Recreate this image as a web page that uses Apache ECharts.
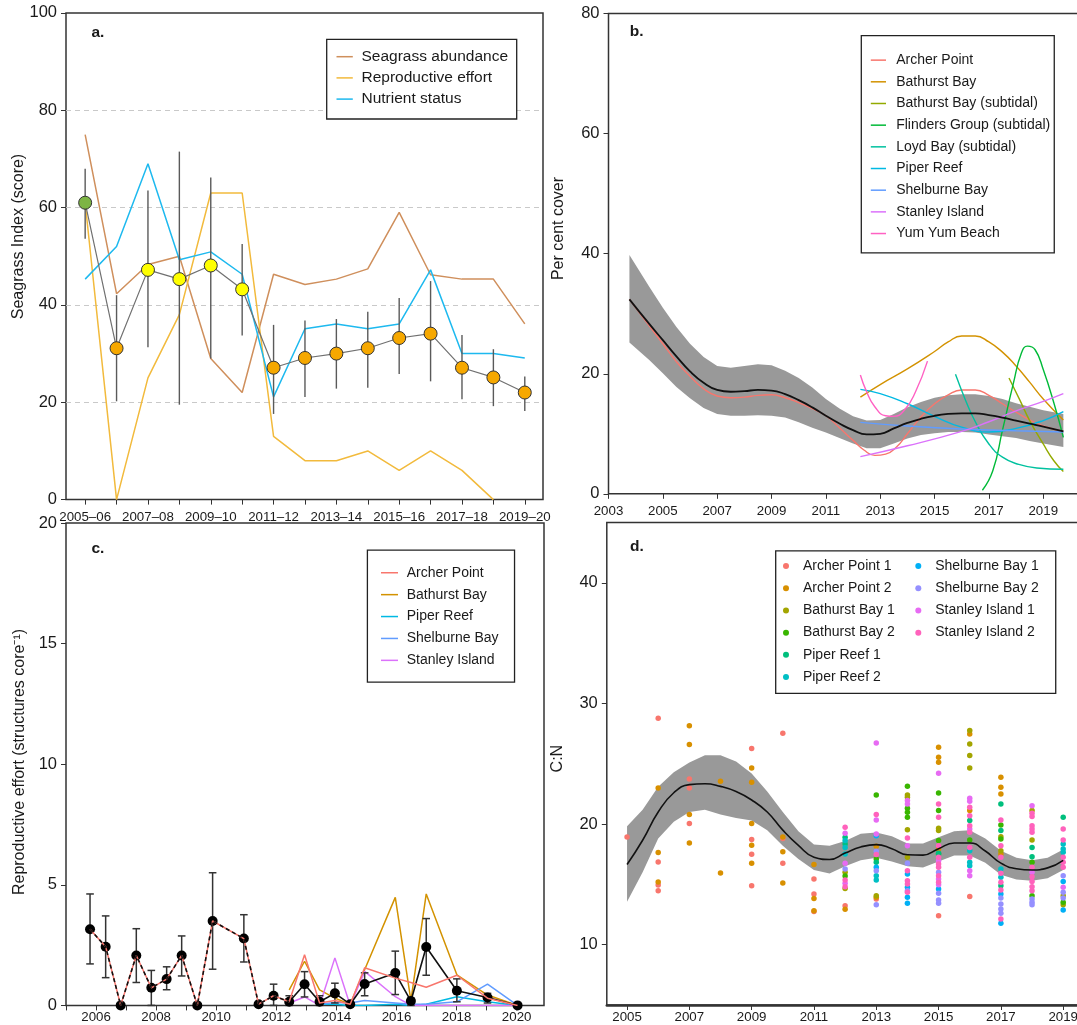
<!DOCTYPE html>
<html><head><meta charset="utf-8">
<script src="https://cdn.jsdelivr.net/npm/echarts@6/dist/echarts.min.js"></script>
<style>html,body{margin:0;padding:0;background:#fff}#c{width:1077px;height:1025px}</style>
</head><body><div id="c"></div><script>
// ---------------- Panel a : Seagrass index ----------------
const periods = ['2005–06','2006–07','2007–08','2008–09','2009–10','2010–11','2011–12','2012–13','2013–14','2014–15','2015–16','2016–17','2017–18','2018–19','2019–20'];
const abundance   = [75, 42.3, 48.3, 50, 29, 22, 46.3, 44.2, 45.3, 47.4, 59, 46.2, 45.3, 45.3, 36.1];
const reproEffort = [61, 0, 25, 38, 63, 63, 13, 8, 8, 10, 6, 10, 6, 0, null];
const nutrient    = [45.3, 52, 69, 49.3, 50.9, 46.3, 21.1, 35.1, 36.1, 35.1, 36.1, 47.2, 30, 30, 29.1];
const indexScore  = [61, 31.1, 47.2, 45.3, 48.1, 43.2, 27.1, 29.1, 30, 31.1, 33.2, 34.1, 27.1, 25.1, 22];
const indexLow    = [53.6, 20.2, 31.3, 19.5, 29, 33.7, 17.6, 21.1, 22.8, 23, 25.8, 24.3, 20.6, 19.2, 18.2];
const indexHigh   = [68, 42, 63.5, 71.5, 66.2, 52.5, 35.9, 36.8, 37.1, 38.6, 41.4, 44.9, 33.8, 30.9, 25.3];
const aTickIdx  = [0,1,2,3,4,5,6,7,8,9,10,11,12,13,14];
const aLabelIdx = [0,2,4,6,8,10,12,14];

// ---------------- Panel b : per cent cover ----------------
const bMeanYears = [2003.77,2004.5,2005,2005.5,2006,2006.5,2007,2007.5,2008,2008.5,2009,2009.5,2010,2010.5,2011,2011.5,2012,2012.5,2013,2013.5,2014,2014.5,2015,2015.5,2016,2016.5,2017,2017.5,2018,2018.5,2019,2019.74];
const bMean  = [32.4,28.3,25.6,22.9,20.4,18.5,17.3,17.0,17.1,17.3,17.2,16.6,15.6,14.4,13.0,11.7,10.6,9.9,10.0,10.9,11.8,12.5,13.0,13.3,13.4,13.4,13.1,12.7,12.2,11.7,11.2,10.4];
const bUpper = [39.8,34.5,31.0,27.8,25.0,22.8,21.3,21.0,21.3,21.6,21.4,20.5,19.3,17.7,15.8,14.2,12.9,12.2,12.3,13.3,14.4,15.3,16.0,16.4,16.6,16.6,16.3,15.8,15.1,14.5,13.9,13.3];
const bLower = [25.2,22.3,20.1,17.8,15.9,14.3,13.3,13.0,13.0,13.1,13.0,12.7,11.9,11.0,10.2,9.3,8.4,7.6,7.6,8.4,9.2,9.8,10.1,10.3,10.3,10.2,9.9,9.6,9.3,8.8,8.4,7.8];
const bArcherPoint = [[2003.77,32.4],[2004.5,28.0],[2005,25.0],[2005.5,22.0],[2006,19.6],[2006.5,17.5],[2007,16.3],[2007.5,16.0],[2008,16.1],[2008.5,16.4],[2009,16.5],[2009.5,16.0],[2010,15.2],[2010.5,14.2],[2011,13.0],[2011.5,11.0],[2012,8.9],[2012.4,7.3],[2012.8,6.4],[2013.2,6.6],[2013.6,7.8],[2014,10.0],[2014.5,12.8],[2015,15.0],[2015.5,16.5],[2016,17.3],[2016.5,17.3],[2017,16.4],[2017.5,15.0],[2018,13.6],[2018.5,12.3],[2019,11.3],[2019.74,10.4]];
const bBathurstBay = [[2012.27,16.1],[2013,18.2],[2014,20.8],[2015,23.7],[2015.5,25.3],[2016,26.3],[2016.5,26.3],[2017,25.3],[2017.5,23.6],[2018,21.3],[2018.5,18.6],[2019,15.8],[2019.74,12.3]];
const bBathurstSub = [[2017.74,19.3],[2018.14,15.6],[2018.5,12.2],[2019,8.3],[2019.39,5.5],[2019.74,3.7]];
const bFlindersSub = [[2016.76,0.6],[2017.14,3.8],[2017.5,10.6],[2017.9,18.4],[2018.2,23.5],[2018.42,24.6],[2018.7,24.0],[2019,20.7],[2019.4,15.0],[2019.74,9.4]];
const bLoydSub     = [[2015.77,19.9],[2016.14,15.6],[2016.5,12.0],[2017,8.3],[2017.5,6.1],[2018.1,4.9],[2018.76,4.3],[2019.74,4.1]];
const bPiperReef   = [[2012.27,17.4],[2013,16.7],[2014,15.0],[2015,12.9],[2016,11.1],[2017,10.3],[2018,10.9],[2019,12.2],[2019.74,13.7]];
const bShelburne   = [[2012.27,11.9],[2014,11.3],[2016,10.8],[2018,10.5],[2019.74,10.3]];
const bStanley     = [[2012.27,6.2],[2014,8.0],[2016,10.4],[2017,12.0],[2018,13.8],[2019,15.4],[2019.74,16.7]];
const bYumYum      = [[2012.27,19.8],[2012.5,17.0],[2012.8,14.5],[2013.2,13.0],[2013.5,12.9],[2013.9,14.0],[2014.3,17.0],[2014.74,22.1]];
const bXTicks = [2003,2005,2007,2009,2011,2013,2015,2017,2019];

// ---------------- Panel c : reproductive effort ----------------
const cTimes = [2005.80,2006.32,2006.82,2007.34,2007.84,2008.35,2008.85,2009.37,2009.88,2010.92,2011.41,2011.91,2012.43,2012.94,2013.44,2013.95,2014.46,2014.94,2015.96,2016.48,2016.99,2018.01,2019.03,2020.03];
const cMean  = [3.16,2.43,0,2.07,0.73,1.09,2.07,0,3.5,2.77,0.05,0.4,0.15,0.88,0.15,0.5,0.05,0.89,1.34,0.18,2.42,0.61,0.33,0];
const cLow   = [1.72,1.15,null,0.95,0,0.65,1.22,null,1.5,1.8,null,0,0,0.35,0,0.1,null,0.4,0.45,0,1.25,0.15,0.1,null];
const cHigh  = [4.62,3.71,null,3.18,1.45,1.6,2.88,null,5.5,3.76,null,0.88,0.4,1.4,0.4,0.92,null,1.35,2.25,0.3,3.6,1.1,0.5,null];
const cArcher    = [3.16,2.43,0,2.07,0.73,1.09,2.07,0,3.5,2.77,0.05,0.4,0.15,2.1,0.1,0.2,0.05,1.56,1.13,0.95,0.75,1.25,0.3,0];
const cBathurst  = [null,null,null,null,null,null,null,null,null,null,null,null,0.64,1.83,0.64,0.3,0.05,1.48,4.48,0.2,4.62,1.27,0.43,0];
const cPiper     = [null,null,null,null,null,null,null,null,null,null,null,null,null,null,0.05,0.05,0,0,0.05,0,0.05,0.36,0.15,0];
const cShelburne = [null,null,null,null,null,null,null,null,null,null,null,null,null,null,0.05,0.12,0.1,0.2,0.1,0.05,0.05,0.15,0.88,0];
const cStanley   = [null,null,null,null,null,null,null,null,null,null,null,null,0.1,0.35,0,1.97,0,1.41,0.36,0,0,0,0,0];
const cDashedUntil = 12;
const cXTicks  = [2005,2006,2007,2008,2009,2010,2011,2012,2013,2014,2015,2016,2017,2018,2019,2020];
const cXLabels = [2006,2008,2010,2012,2014,2016,2018,2020];

// ---------------- Panel d : C:N ----------------
const dCurveYears = [2005,2005.5,2006,2006.5,2007,2007.5,2008,2008.5,2009,2009.5,2010,2010.5,2011,2011.5,2012,2012.5,2013,2013.5,2014,2014.5,2015,2015.5,2016,2016.5,2017,2017.5,2018,2018.5,2019];
const dCurve = [16.65,18.66,21.0,22.6,23.27,23.35,23.13,22.7,22.0,21.0,19.5,18.24,17.26,17.07,17.6,18.1,18.3,17.96,17.46,17.43,17.96,18.43,18.43,17.77,16.76,16.3,16.2,16.37,17.0];
const dUpper = [19.83,21.2,23.1,24.3,25.1,25.7,25.7,25.2,24.2,22.7,21.0,19.4,18.3,18.2,18.6,19.2,19.3,19.0,18.4,18.4,18.9,19.4,19.5,18.8,17.8,17.2,17.0,17.2,17.9];
const dLower = [13.57,16.0,18.8,20.2,21.0,21.2,20.8,20.5,20.3,19.5,18.2,17.1,16.2,15.9,16.5,17.0,17.2,16.9,16.5,16.4,16.9,17.4,17.4,16.8,15.8,15.4,15.3,15.5,16.2];
const dArcher1 = [[2005,18.94],[2006,28.77],[2006,16.85],[2006,14.95],[2006,14.47],[2007,23.74],[2007,23.0],[2007,20.05],[2009,26.26],[2009,18.72],[2009,17.49],[2009,14.89],[2010,27.54],[2010,18.8],[2010,16.76],[2011,15.45],[2011,14.2],[2011,12.76],[2012,13.23],[2013,13.79],[2015,12.4],[2016,14.0]];
const dArcher2 = [[2006,23.0],[2006,17.65],[2006,15.2],[2007,28.16],[2007,26.6],[2007,20.8],[2007,18.44],[2008,23.55],[2008,15.95],[2009,24.66],[2009,23.46],[2009,20.06],[2009,18.24],[2009,16.76],[2010,18.94],[2010,17.71],[2010,15.11],[2011,16.64],[2011,13.84],[2011,12.82],[2012,12.93],[2013,18.16],[2013,13.93],[2015,26.37],[2015,25.54],[2015,25.13],[2015,17.94],[2016,27.48],[2016,21.12],[2017,23.88],[2017,23.05],[2017,22.5],[2017,17.52]];
const dBathurst1 = [[2012,16.0],[2012,14.67],[2013,14.06],[2014,22.42],[2014,22.22],[2014,19.54],[2014,17.25],[2015,19.65],[2015,19.46],[2016,27.76],[2016,26.65],[2016,25.68],[2016,24.66],[2017,18.96],[2017,17.8],[2018,21.12],[2018,18.68],[2019,14.06],[2019,13.32]];
const dBathurst2 = [[2012,15.7],[2013,22.42],[2013,17.11],[2014,23.14],[2014,21.31],[2014,20.98],[2014,20.56],[2015,22.58],[2015,21.12],[2015,18.63],[2015,17.52],[2016,18.68],[2017,19.93],[2017,18.77],[2018,16.83],[2018,14.06],[2019,13.51]];
const dPiper1 = [[2012,18.9],[2012,18.35],[2013,16.83],[2015,17.58],[2016,20.29],[2017,21.67],[2017,19.46],[2017,14.89],[2018,18.07],[2018,17.3],[2019,20.56]];
const dPiper2 = [[2012,18.63],[2012,18.07],[2012,17.52],[2013,15.72],[2013,15.36],[2016,17.8],[2016,16.83],[2016,16.55],[2017,16.28],[2017,15.59],[2019,18.35],[2019,17.94],[2019,17.66]];
const dShelburne1 = [[2013,19.04],[2013,16.42],[2014,15.86],[2014,14.76],[2014,13.93],[2014,13.43],[2015,14.62],[2017,14.2],[2017,11.77],[2019,15.25],[2019,12.87]];
const dShelburne2 = [[2012,16.28],[2013,17.74],[2013,16.14],[2013,13.32],[2014,16.75],[2014,14.48],[2015,16.0],[2015,14.26],[2015,13.7],[2015,13.43],[2017,13.87],[2017,13.37],[2017,12.96],[2017,12.6],[2018,13.79],[2018,13.51],[2018,13.32],[2019,15.72],[2019,14.34],[2019,13.87]];
const dStanley1 = [[2012,19.24],[2012,16.75],[2012,15.09],[2013,26.73],[2013,20.34],[2013,19.18],[2014,21.95],[2014,21.67],[2014,18.21],[2015,24.22],[2015,16.97],[2015,15.45],[2015,14.98],[2016,22.14],[2016,21.89],[2016,19.6],[2016,16.14],[2016,15.72],[2018,21.53],[2018,16.0],[2019,14.76]];
const dStanley2 = [[2012,19.73],[2012,15.36],[2012,14.81],[2013,20.79],[2013,17.47],[2014,18.85],[2014,16.14],[2014,15.31],[2014,15.03],[2014,14.34],[2015,21.67],[2015,20.56],[2015,18.21],[2015,17.25],[2015,16.69],[2015,16.42],[2015,15.72],[2015,15.17],[2016,21.4],[2016,20.7],[2016,19.87],[2016,19.32],[2016,18.07],[2016,17.25],[2017,20.34],[2017,18.21],[2017,17.25],[2017,15.92],[2017,15.17],[2017,14.53],[2017,12.13],[2018,20.9],[2018,20.62],[2018,19.87],[2018,19.6],[2018,19.32],[2018,16.42],[2018,15.64],[2018,15.25],[2018,14.81],[2018,14.48],[2019,19.6],[2019,18.68],[2019,17.25],[2019,16.83],[2019,16.42]];
const dXTicks = [2005,2007,2009,2011,2013,2015,2017,2019];
const dYTicks = [10,20,30,40];

// ---------------- styling ----------------
const FONT = "'Liberation Sans', Arial, Helvetica, sans-serif";
const TXT = '#1a1a1a';
const FRAME = '#333333';
const COL = {
  archer:'#F8766D', bathurst:'#D39200', bathSub:'#93AA00', flinders:'#00BA38', loyd:'#00C19F',
  piper:'#00B9E3', shelburne:'#619CFF', stanley:'#DB72FB', yumyum:'#FF61C3'
};
const DCOL = ['#F8766D','#D89000','#A3A500','#39B600','#00BF7D','#00BFC4','#00B0F6','#9590FF','#E76BF3','#FF62BC'];

function gradeColor(v){ return v > 60 ? '#7DB544' : (v > 40 ? '#FFFF00' : '#F6A800'); }

function lineSeries(name, color, data, gi, extra){
  return Object.assign({
    type:'line', name, xAxisIndex:gi, yAxisIndex:gi, data,
    showSymbol:false, symbol:'none', smooth:false, connectNulls:false,
    lineStyle:{color, width:1.5}, itemStyle:{color}, z:2, silent:true
  }, extra || {});
}
const tick = {show:true, inside:false, length:5, lineStyle:{color:FRAME, width:1}};
const noLine = {show:false, onZero:false};
function xLabel(extra){ return Object.assign({fontSize:13.3, color:TXT, fontFamily:FONT, margin:11}, extra||{}); }
function yLabel(extra){ return Object.assign({fontSize:16.5, color:TXT, fontFamily:FONT, margin:9}, extra||{}); }

const gridBase = {show:true, borderColor:FRAME, borderWidth:1.5, backgroundColor:'transparent', containLabel:false, outerBoundsMode:'none'};
const grids = [
  Object.assign({left:66, top:12.9, width:477, height:486.7}, gridBase),
  Object.assign({left:608.5, top:13.6, width:475.5, height:480.2}, gridBase),
  Object.assign({left:66, top:523, width:478, height:482.4}, gridBase),
  Object.assign({left:606.8, top:522.6, width:478.2, height:482.4}, gridBase)
];

const xAxes = [
  {gridIndex:0, type:'value', min:-0.61, max:14.58, axisLine:noLine, splitLine:{show:false},
   axisTick:Object.assign({customValues:aTickIdx}, tick),
   axisLabel:xLabel({customValues:aLabelIdx, formatter:v => periods[Math.round(v)]})},
  {gridIndex:1, type:'value', min:2003, max:2020.5, axisLine:noLine, splitLine:{show:false},
   axisTick:Object.assign({customValues:bXTicks}, tick),
   axisLabel:xLabel({customValues:bXTicks, formatter:v => String(v)})},
  {gridIndex:2, type:'value', min:2005, max:2020.91, axisLine:noLine, splitLine:{show:false},
   axisTick:Object.assign({customValues:cXTicks}, tick),
   axisLabel:xLabel({customValues:cXLabels, formatter:v => String(v), margin:5.5})},
  {gridIndex:3, type:'value', min:2004.35, max:2019.7, axisLine:{show:true, onZero:false, lineStyle:{color:FRAME, width:2.5}}, splitLine:{show:false},
   axisTick:Object.assign({customValues:dXTicks}, tick),
   axisLabel:xLabel({customValues:dXTicks, formatter:v => String(v), margin:5.5})}
];
const yAxes = [
  {gridIndex:0, type:'value', min:0, max:100, interval:20, axisLine:noLine,
   splitLine:{show:true, showMinLine:false, showMaxLine:false, lineStyle:{type:[5,4], color:'#c9c9c9', width:1}},
   axisTick:tick, axisLabel:yLabel()},
  {gridIndex:1, type:'value', min:0, max:80, interval:20, axisLine:noLine, splitLine:{show:false}, axisTick:tick, axisLabel:yLabel()},
  {gridIndex:2, type:'value', min:0, max:20, interval:5, axisLine:noLine, splitLine:{show:false}, axisTick:tick, axisLabel:yLabel()},
  {gridIndex:3, type:'value', min:5, max:45, axisLine:noLine, splitLine:{show:false},
   axisTick:Object.assign({customValues:dYTicks}, tick), axisLabel:yLabel({customValues:dYTicks, formatter:v => String(v)})}
];

const series = [];
// ---- panel a ----
series.push(lineSeries('Seagrass abundance', '#CF8F5C', abundance.map((v,i)=>[i,v]), 0));
series.push(lineSeries('Reproductive effort', '#F2BA3C', reproEffort.map((v,i)=>[i,v]), 0));
series.push(lineSeries('Nutrient status', '#1DB9EF', nutrient.map((v,i)=>[i,v]), 0));
series.push({type:'custom', name:'aErr', xAxisIndex:0, yAxisIndex:0, z:3, silent:true,
  data: indexLow.map((lo,i)=>[i, lo, indexHigh[i]]), encode:{x:0, y:[1,2]},
  renderItem(params, api){
    const a = api.coord([api.value(0), api.value(1)]);
    const b = api.coord([api.value(0), api.value(2)]);
    return {type:'line', shape:{x1:a[0], y1:a[1], x2:b[0], y2:b[1]}, style:{stroke:'#5a5a5a', lineWidth:1.4}};
  }});
series.push(lineSeries('Seagrass Index', '#707070', indexScore.map((v,i)=>({value:[i,v], itemStyle:{color:gradeColor(v), borderColor:'#333', borderWidth:1}})), 0, {
  showSymbol:true, symbol:'circle', symbolSize:13, lineStyle:{color:'#707070', width:1.2}, itemStyle:{borderColor:'#333', borderWidth:1}, z:4
}));

// ---- panel b ----
series.push({type:'custom', name:'bBand', xAxisIndex:1, yAxisIndex:1, z:1, silent:true,
  data:[[bMeanYears[0], bUpper[0]]], encode:{x:0, y:1},
  renderItem(params, api){
    const pts = [];
    for (let i = 0; i < bMeanYears.length; i++) pts.push(api.coord([bMeanYears[i], bUpper[i]]));
    for (let i = bMeanYears.length - 1; i >= 0; i--) pts.push(api.coord([bMeanYears[i], bLower[i]]));
    return {type:'polygon', shape:{points:pts}, style:{fill:'#999999'}};
  }});
function bLine(name, color, data){ const s = lineSeries(name, color, data, 1, {smooth:0.5}); s.lineStyle.width = 1.4; return s; }
series.push(bLine('Archer Point', COL.archer, bArcherPoint));
series.push(bLine('Bathurst Bay', COL.bathurst, bBathurstBay));
series.push(bLine('Bathurst Bay (subtidal)', COL.bathSub, bBathurstSub));
series.push(bLine('Flinders Group (subtidal)', COL.flinders, bFlindersSub));
series.push(bLine('Loyd Bay (subtidal)', COL.loyd, bLoydSub));
series.push(bLine('Piper Reef', COL.piper, bPiperReef));
series.push(bLine('Shelburne Bay', COL.shelburne, bShelburne));
series.push(bLine('Stanley Island', COL.stanley, bStanley));
series.push(bLine('Yum Yum Beach', COL.yumyum, bYumYum));
series.push(lineSeries('bMean', '#111', bMeanYears.map((y,i)=>[y, bMean[i]]), 1, {smooth:0.5, lineStyle:{color:'#111', width:1.8}, z:3}));

// ---- panel c ----
const cPairs = arr => cTimes.map((t,i)=>[t, arr[i]]);
series.push(lineSeries('Bathurst Bay', COL.bathurst, cPairs(cBathurst), 2));
series.push(lineSeries('Piper Reef', COL.piper, cPairs(cPiper), 2));
series.push(lineSeries('Shelburne Bay', COL.shelburne, cPairs(cShelburne), 2));
series.push(lineSeries('Stanley Island', COL.stanley, cPairs(cStanley), 2));
series.push(lineSeries('cMeanSolid', '#111', cTimes.map((t,i)=>[t, i >= cDashedUntil ? cMean[i] : null]), 2, {lineStyle:{color:'#111', width:1.6}, z:3}));
series.push({type:'custom', name:'cErr', xAxisIndex:2, yAxisIndex:2, z:3, silent:true,
  data: cTimes.map((t,i)=>[t, cLow[i], cHigh[i]]), encode:{x:0, y:[1,2]},
  renderItem(params, api){
    const lo = api.value(1), hi = api.value(2);
    if (lo == null || hi == null || isNaN(lo) || isNaN(hi)) return null;
    const a = api.coord([api.value(0), lo]);
    const b = api.coord([api.value(0), hi]);
    const w = 3.8, st = {stroke:'#333', lineWidth:1.5};
    return {type:'group', children:[
      {type:'line', shape:{x1:a[0], y1:a[1], x2:b[0], y2:b[1]}, style:st},
      {type:'line', shape:{x1:a[0]-w, y1:a[1], x2:a[0]+w, y2:a[1]}, style:st},
      {type:'line', shape:{x1:b[0]-w, y1:b[1], x2:b[0]+w, y2:b[1]}, style:st}
    ]};
  }});
series.push({type:'scatter', name:'cMeanPts', xAxisIndex:2, yAxisIndex:2, z:4, silent:true,
  data: cPairs(cMean), symbol:'circle', symbolSize:10, itemStyle:{color:'#000', opacity:1}});
series.push(lineSeries('Archer Point', COL.archer, cPairs(cArcher), 2, {z:5}));
series.push(lineSeries('cMeanDashed', '#111', cTimes.map((t,i)=>[t, i <= cDashedUntil ? cMean[i] : null]), 2, {lineStyle:{color:'#111', width:1.6, type:[4,3]}, z:6}));

// ---- panel d ----
series.push({type:'custom', name:'dBand', xAxisIndex:3, yAxisIndex:3, z:1, silent:true,
  data:[[dCurveYears[0], dUpper[0]]], encode:{x:0, y:1},
  renderItem(params, api){
    const pts = [];
    for (let i = 0; i < dCurveYears.length; i++) pts.push(api.coord([dCurveYears[i], dUpper[i]]));
    for (let i = dCurveYears.length - 1; i >= 0; i--) pts.push(api.coord([dCurveYears[i], dLower[i]]));
    return {type:'polygon', shape:{points:pts}, style:{fill:'#999999'}};
  }});
const dNames = ['Archer Point 1','Archer Point 2','Bathurst Bay 1','Bathurst Bay 2','Piper Reef 1','Piper Reef 2','Shelburne Bay 1','Shelburne Bay 2','Stanley Island 1','Stanley Island 2'];
const dData = [dArcher1, dArcher2, dBathurst1, dBathurst2, dPiper1, dPiper2, dShelburne1, dShelburne2, dStanley1, dStanley2];
dNames.forEach((n,k)=>{
  series.push({type:'scatter', name:n, xAxisIndex:3, yAxisIndex:3, z:2, silent:true, data:dData[k],
    symbol:'circle', symbolSize:5.5, itemStyle:{color:DCOL[k], opacity:1}});
});
series.push(lineSeries('dCurve', '#111', dCurveYears.map((y,i)=>[y, dCurve[i]]), 3, {smooth:0.5, lineStyle:{color:'#111', width:1.6}, z:3}));

// ---------------- legends ----------------
const legText = (fs, lh, padL) => ({fontSize:fs, lineHeight:lh, color:TXT, fontFamily:FONT, padding:[0,0,0,padL]});
const legends = [
  {left:326.7, top:39.3, orient:'vertical', icon:'rect', itemWidth:16.3, itemHeight:1.5, itemGap:0,
   padding:[6.8, 8.7, 9.3, 9.8], borderColor:'#222', borderWidth:1.3, backgroundColor:'#fff', selectedMode:false,
   textStyle:legText(15.5, 21.2, 3.7), data:['Seagrass abundance','Reproductive effort','Nutrient status']},
  {left:861.3, top:35.6, orient:'vertical', icon:'rect', itemWidth:15.2, itemHeight:1.5, itemGap:0,
   padding:[13.7, 4, 8.5, 9.5], borderColor:'#222', borderWidth:1.3, backgroundColor:'#fff', selectedMode:false,
   textStyle:legText(14, 21.675, 5.2),
   data:['Archer Point','Bathurst Bay','Bathurst Bay (subtidal)','Flinders Group (subtidal)','Loyd Bay (subtidal)','Piper Reef','Shelburne Bay','Stanley Island','Yum Yum Beach']},
  {left:367.4, top:550.2, orient:'vertical', icon:'rect', itemWidth:17, itemHeight:1.5, itemGap:0,
   padding:[11.6, 16, 10.9, 13.6], borderColor:'#222', borderWidth:1.3, backgroundColor:'#fff', selectedMode:false,
   textStyle:legText(14, 21.9, 3.7), data:['Archer Point','Bathurst Bay','Piper Reef','Shelburne Bay','Stanley Island']},
  {left:775.7, top:550.8, orient:'vertical', icon:'circle', itemWidth:6, itemHeight:6, itemGap:0,
   padding:[4.2, 161, 5.2, 7.3], borderColor:'#222', borderWidth:1.3, backgroundColor:'#fff', selectedMode:false,
   textStyle:legText(14, 22.18, 8.9), data:dNames.slice(0,6)},
  {left:915.3, top:550.8, orient:'vertical', icon:'circle', itemWidth:6, itemHeight:6, itemGap:0, z:10,
   padding:[4.2, 0, 0, 0], selectedMode:false,
   textStyle:legText(14, 22.18, 8.9), data:dNames.slice(6)}
];

// ---------------- texts ----------------
const tstyle = (text, fs, extra) => Object.assign({text, fontSize:fs, fontFamily:FONT, fill:TXT, align:'center', verticalAlign:'middle', textAlign:'center', textVerticalAlign:'middle'}, extra||{});
const graphics = [
  {type:'text', x:91.4, y:32.3, style:tstyle('a.', 15.5, {fontWeight:'bold', align:'left', textAlign:'left'})},
  {type:'text', x:629.8, y:31.6, style:tstyle('b.', 15.5, {fontWeight:'bold', align:'left', textAlign:'left'})},
  {type:'text', x:91.4, y:548.4, style:tstyle('c.', 15.5, {fontWeight:'bold', align:'left', textAlign:'left'})},
  {type:'text', x:630, y:546.4, style:tstyle('d.', 15.5, {fontWeight:'bold', align:'left', textAlign:'left'})},
  {type:'text', x:19, y:236.5, rotation:Math.PI/2, style:tstyle('Seagrass Index (score)', 16)},
  {type:'text', x:559, y:228.5, rotation:Math.PI/2, style:tstyle('Per cent cover', 16)},
  {type:'text', x:20, y:762, rotation:Math.PI/2, style:tstyle('Reproductive effort (structures core⁻¹)', 16)},
  {type:'text', x:558, y:758.6, rotation:Math.PI/2, style:tstyle('C:N', 16)}
];

const chart = echarts.init(document.getElementById('c'), null, {renderer:'canvas'});
chart.setOption({
  animation:false,
  backgroundColor:'#fff',
  textStyle:{fontFamily:FONT},
  grid:grids, xAxis:xAxes, yAxis:yAxes, series, legend:legends, graphic:graphics,
  tooltip:{show:false}
});
</script></body></html>
